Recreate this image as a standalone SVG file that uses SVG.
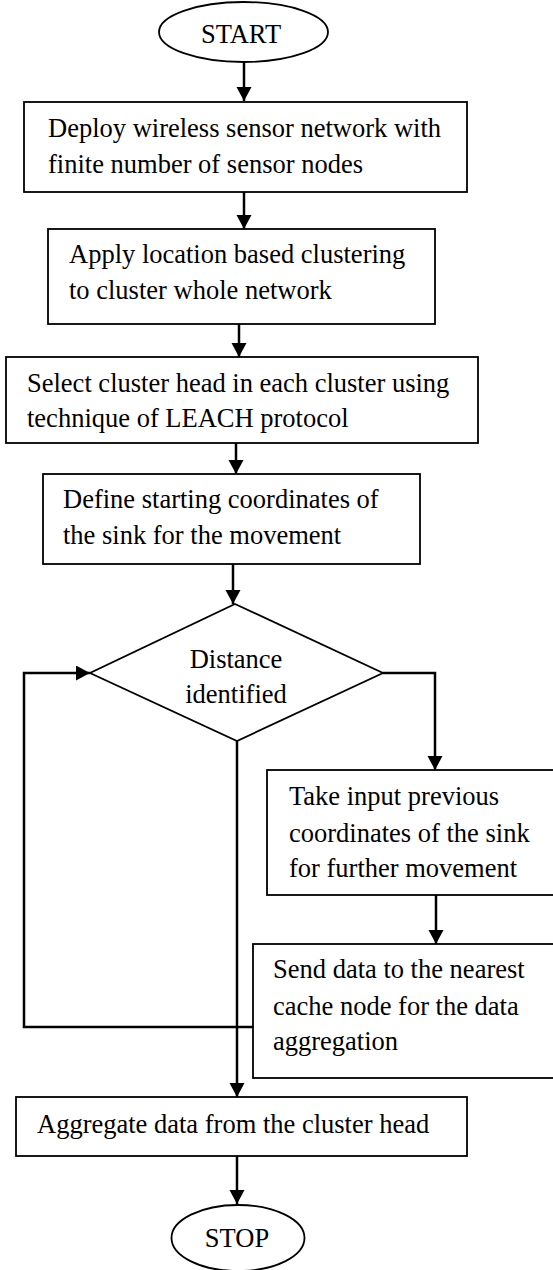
<svg xmlns="http://www.w3.org/2000/svg" width="553" height="1270" viewBox="0 0 553 1270">
<style>
.box{fill:#fff;stroke:#000;stroke-width:1.8}
.t{font-family:"Liberation Serif","Times New Roman",serif;font-size:26.5px;fill:#000}
.c{text-anchor:middle}
.ln{fill:none;stroke:#000;stroke-width:2.5}
</style>
<defs>
<marker id="ah" markerUnits="userSpaceOnUse" markerWidth="16" markerHeight="16" refX="14" refY="7.5" orient="auto" viewBox="0 0 16 16">
<path d="M0,0 L14,7.5 L0,15 z" fill="#000"/>
</marker>
</defs>
<rect width="553" height="1270" fill="#fff"/>
<g id="connectors">
<line class="ln" x1="244" y1="62" x2="244" y2="101" marker-end="url(#ah)"/>
<line class="ln" x1="244" y1="192" x2="244" y2="229" marker-end="url(#ah)"/>
<line class="ln" x1="239" y1="324" x2="239" y2="357" marker-end="url(#ah)"/>
<line class="ln" x1="236" y1="443" x2="236" y2="474" marker-end="url(#ah)"/>
<line class="ln" x1="233" y1="564" x2="233" y2="604" marker-end="url(#ah)"/>
<polyline class="ln" points="383,673 435,673 435,770" marker-end="url(#ah)"/>
<line class="ln" x1="436" y1="895" x2="436" y2="944" marker-end="url(#ah)"/>
<polyline class="ln" points="253,1027 24,1027 24,673 90,673" marker-end="url(#ah)"/>
<line class="ln" x1="237" y1="741" x2="237" y2="1097" marker-end="url(#ah)"/>
<line class="ln" x1="237" y1="1156" x2="237" y2="1204" marker-end="url(#ah)"/>
</g>
<g id="start">
<ellipse class="box" cx="243.5" cy="32" rx="84.5" ry="30"/>
<text class="t c" x="241" y="43">START</text>
</g>
<g id="deploy">
<rect class="box" x="24" y="102" width="443" height="90"/>
<text class="t" x="48" y="137">Deploy wireless sensor network with</text>
<text class="t" x="48" y="173">finite number of sensor nodes</text>
</g>
<g id="clustering">
<rect class="box" x="48" y="229" width="387" height="95"/>
<text class="t" x="69" y="263">Apply location based clustering</text>
<text class="t" x="69" y="299">to cluster whole network</text>
</g>
<g id="clusterhead">
<rect class="box" x="6" y="357" width="472" height="86"/>
<text class="t" x="27" y="392">Select cluster head in each cluster using</text>
<text class="t" x="27" y="427">technique of LEACH protocol</text>
</g>
<g id="define">
<rect class="box" x="43" y="474" width="377" height="90"/>
<text class="t" x="63" y="508">Define starting coordinates of</text>
<text class="t" x="63" y="544">the sink for the movement</text>
</g>
<g id="decision">
<polygon class="box" points="235,604 383,673 237,741 90,673"/>
<text class="t c" x="236" y="668">Distance</text>
<text class="t c" x="236" y="703">identified</text>
</g>
<g id="takeinput">
<rect class="box" x="267" y="770" width="340" height="125"/>
<text class="t" x="289" y="805">Take input previous</text>
<text class="t" x="289" y="842">coordinates of the sink</text>
<text class="t" x="289" y="877">for further movement</text>
</g>
<g id="senddata">
<rect class="box" x="253" y="944" width="354" height="134"/>
<text class="t" x="273" y="978">Send data to the nearest</text>
<text class="t" x="273" y="1015">cache node for the data</text>
<text class="t" x="273" y="1050">aggregation</text>
</g>
<g id="aggregate">
<rect class="box" x="16" y="1097" width="451" height="59"/>
<text class="t" x="37" y="1133">Aggregate data from the cluster head</text>
</g>
<g id="stop">
<ellipse class="box" cx="238" cy="1238" rx="66.5" ry="33"/>
<text class="t c" x="237" y="1247">STOP</text>
</g>
</svg>
